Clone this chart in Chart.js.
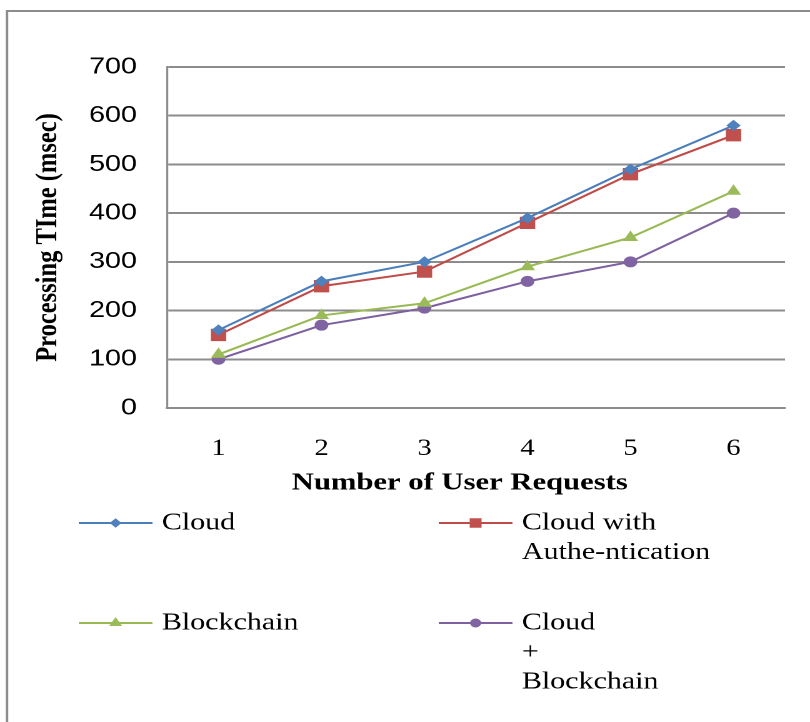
<!DOCTYPE html>
<html>
<head>
<meta charset="utf-8">
<script src="https://cdn.jsdelivr.net/npm/chart.js@4/dist/chart.umd.min.js"></script>
<style>
  html, body { margin: 0; padding: 0; background: #fff; overflow: hidden; }
  /* the figure is laid out narrow and widened horizontally */
  #stage { position: absolute; left: 0; top: 0; width: 648px; height: 722px;
           transform: scaleX(1.25); transform-origin: 0 0; }
</style>
</head>
<body>
<div id="stage"><canvas id="c"></canvas></div>
<script>
// Processing time (msec) per number of user requests
const requests = ['1', '2', '3', '4', '5', '6'];
const cloud = [160, 260, 300, 390, 490, 580];
const cloudAuth = [150, 250, 280, 380, 480, 560];
const blockchain = [110, 190, 215, 290, 350, 445];
const cloudBlockchain = [100, 170, 205, 260, 300, 400];
const yTicks = [0, 100, 200, 300, 400, 500, 600, 700];

const seriesNames = ['Cloud', 'Cloud with Authe-ntication', 'Blockchain', 'Cloud + Blockchain'];
const legendLines = [['Cloud'], ['Cloud with', 'Authe-ntication'], ['Blockchain'], ['Cloud', '+', 'Blockchain']];

const lineColors = ['#4A7EBB', '#BE4B48', '#98B954', '#7D60A0'];
const markColors = ['#4F81BD', '#C0504D', '#9BBB59', '#8064A2'];
const markStyles = ['rectRot', 'rect', 'triangle', 'circle'];
const markSizes = [5, 8, 6, 5];
const legendMarkSizes = [4, 6, 5, 4];

const seriesValues = [cloud, cloudAuth, blockchain, cloudBlockchain];

const GRID = '#8c8c8c';
const SERIF = '"Liberation Serif", "Times New Roman", serif';
const SANS = '"Liberation Sans", Arial, sans-serif';

// outer frame around the whole figure
const framePlugin = {
  id: 'frame',
  beforeDraw(chart) {
    const ctx = chart.ctx;
    ctx.save();
    ctx.strokeStyle = GRID;
    ctx.lineWidth = 2;
    ctx.strokeRect(5.6, 11, 800, 900);
    ctx.restore();
  }
};

// the x-axis title sits a little left of the plot centre
const titleShift = {
  id: 'titleShift',
  afterLayout(chart) {
    const s = chart.scales.x;
    if (s && !s._shiftedTitle) {
      const draw = s.drawTitle.bind(s);
      s.drawTitle = function () {
        this.ctx.save();
        this.ctx.translate(-13, 0);
        draw();
        this.ctx.restore();
      };
      s._shiftedTitle = true;
    }
  }
};

// two-column legend under the plot, with wrapped labels
const legendGrid = {
  id: 'legendGrid',
  afterDraw(chart) {
    const ctx = chart.ctx;
    const colX = [63, 351];
    const rowY = [523, 623];
    const lineLen = 59;
    const textGap = 7.5;
    const lineStep = 29.5;
    chart.data.datasets.forEach((ds, i) => {
      const col = i % 2, row = Math.floor(i / 2);
      const x0 = colX[col], x1 = x0 + lineLen, y = rowY[row];
      ctx.save();
      ctx.strokeStyle = ds.borderColor;
      ctx.lineWidth = 2;
      ctx.beginPath();
      ctx.moveTo(x0, y);
      ctx.lineTo(x1, y);
      ctx.stroke();
      ctx.fillStyle = ds.pointBackgroundColor;
      ctx.strokeStyle = ds.pointBorderColor;
      ctx.lineWidth = 1;
      Chart.helpers.drawPoint(ctx, {
        pointStyle: ds.pointStyle, radius: legendMarkSizes[i], borderWidth: 1, rotation: 0
      }, (x0 + x1) / 2, y);
      ctx.fillStyle = '#000';
      ctx.font = '24px ' + SERIF;
      ctx.textAlign = 'left';
      ctx.textBaseline = 'middle';
      legendLines[i].forEach((t, k) => ctx.fillText(t, x1 + textGap, y + k * lineStep));
      ctx.restore();
    });
  }
};

new Chart(document.getElementById('c'), {
  type: 'line',
  data: {
    labels: requests,
    datasets: seriesValues.map((vals, i) => ({
      label: seriesNames[i],
      data: vals,
      borderColor: lineColors[i],
      backgroundColor: markColors[i],
      borderWidth: 2,
      pointStyle: markStyles[i],
      pointRadius: markSizes[i],
      pointHoverRadius: markSizes[i],
      pointBackgroundColor: markColors[i],
      pointBorderColor: markColors[i],
      pointBorderWidth: 1,
      tension: 0,
      fill: false
    }))
  },
  options: {
    responsive: true,
    maintainAspectRatio: false,
    devicePixelRatio: 2,
    animation: false,
    layout: { padding: { left: 20, right: 20, top: 67, bottom: 224 } },
    plugins: {
      legend: { display: false },
      tooltip: { enabled: false }
    },
    scales: {
      x: {
        offset: true,
        grid: { display: false, drawTicks: false, offset: true },
        border: { display: true, color: GRID, width: 2 },
        ticks: { color: '#000', padding: 27, font: { family: SERIF, size: 23 } },
        title: {
          display: true, text: 'Number of User Requests', color: '#000',
          font: { family: SERIF, size: 24.5, weight: 'bold' },
          padding: { top: 0, bottom: 0 }
        },
        afterFit(s) { s.height = 90; }
      },
      y: {
        min: 0, max: 700,
        afterBuildTicks(s) { s.ticks = yTicks.map(v => ({ value: v })); },
        grid: { color: GRID, lineWidth: 2, drawTicks: false },
        border: { display: true, color: GRID, width: 1.6 },
        ticks: { color: '#000', padding: 24, font: { family: SANS, size: 23 } },
        title: {
          display: true, text: 'Processing TIme (msec)', color: '#000',
          font: { family: SERIF, size: 24.5, weight: 'bold' },
          padding: { top: 4, bottom: 0 }
        },
        afterFit(s) { s.width = 113.6; }
      }
    }
  },
  plugins: [framePlugin, titleShift, legendGrid]
});
</script>
</body>
</html>
